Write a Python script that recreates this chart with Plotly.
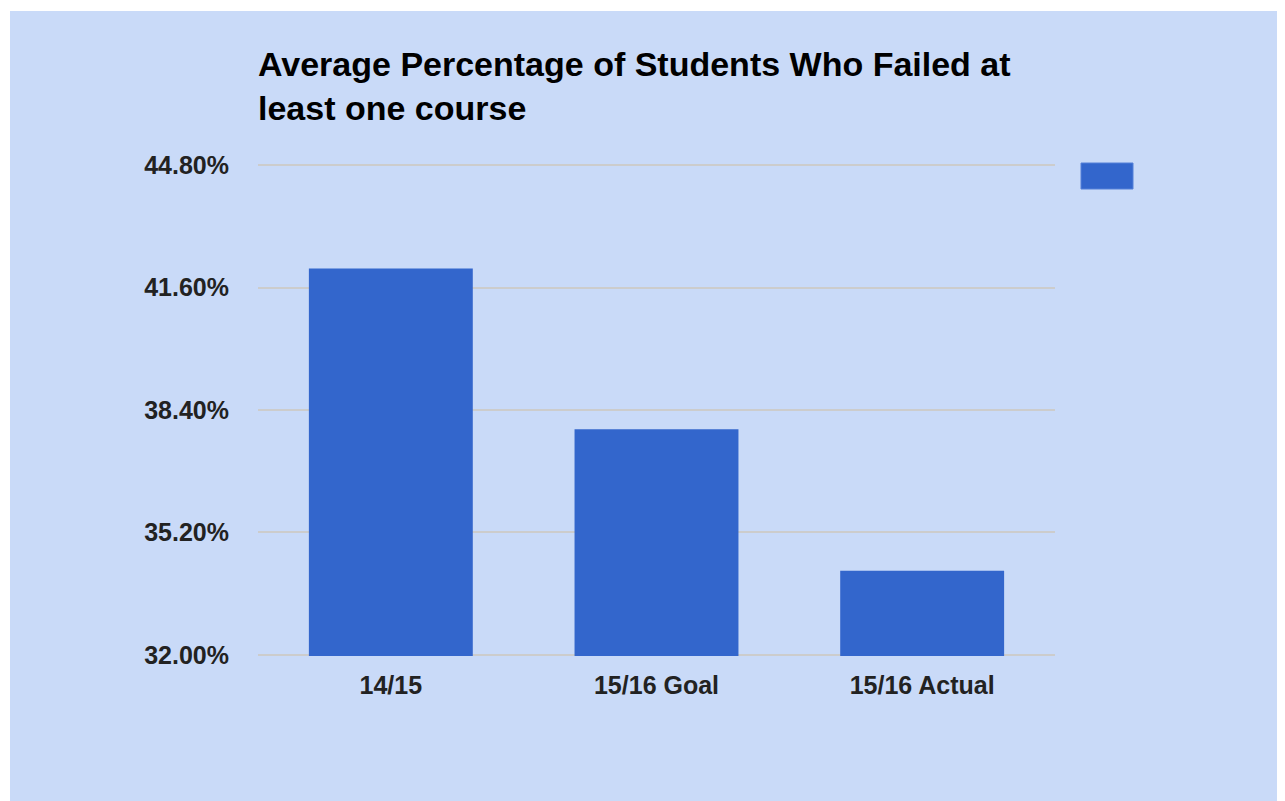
import plotly.graph_objects as go

categories = ["14/15", "15/16 Goal", "15/16 Actual"]
values = [42.1, 37.9, 34.2]
y_ticks = [32.0, 35.2, 38.4, 41.6, 44.8]
y_tick_labels = [f"{v:.2f}%" for v in y_ticks]

BLUE_BG = "#c9daf8"
BAR = "#3366cc"
FONT = "Liberation Sans, Arial, sans-serif"

OFF = 8  # page body offset
W, H = 1285, 801
ML, MT = 258 - OFF, 164 - OFF
MR = W - (1055 - OFF)
MB = H - (656 - OFF)
pw = W - ML - MR
ph = H - MT - MB

def px_x(x):
    return (x - OFF - ML) / pw

def px_y(y):
    return (H - MB - (y - OFF)) / ph

fig = go.Figure()
fig.add_trace(go.Bar(
    x=categories, y=values, marker=dict(color=BAR, line=dict(width=0)),
    showlegend=False, hoverinfo="x+y",
))

shapes = [
    dict(type="rect", xref="paper", yref="paper", layer="below",
         x0=px_x(10), x1=px_x(W + 20), y0=px_y(H + 20), y1=px_y(11),
         fillcolor=BLUE_BG, line=dict(width=0)),
    dict(type="rect", xref="paper", yref="paper",
         x0=px_x(1081), x1=px_x(1133), y0=px_y(189), y1=px_y(163),
         fillcolor=BAR, line=dict(width=1, color="#5580d8")),
]

fig.update_layout(
    width=W, height=H,
    margin=dict(l=ML, r=MR, t=MT, b=MB, pad=0),
    paper_bgcolor="white",
    plot_bgcolor=BLUE_BG,
    bargap=0.383,
    shapes=shapes,
    title=dict(
        text="Average Percentage of Students Who Failed at<br>least one course",
        font=dict(family=FONT, size=34, color="#000000", weight="bold"),
        xref="paper", x=0, xanchor="left",
        yref="container", y=1 - (44 + 32 - OFF) / H, yanchor="top",
    ),
    xaxis=dict(
        showgrid=False, showline=False, zeroline=False,
        tickfont=dict(family=FONT, size=25, color="#222222", weight="bold"),
        ticks="", ticklabelstandoff=12,
    ),
    yaxis=dict(
        range=[31.97, 44.83], tickvals=y_ticks, ticktext=y_tick_labels,
        showgrid=True, gridcolor="#cccccc", gridwidth=2,
        zeroline=False, showline=False,
        tickfont=dict(family=FONT, size=25, color="#222222", weight="bold"),
        ticks="", ticklabelstandoff=28,
    ),
    showlegend=False,
)

fig.write_html("out.html")
